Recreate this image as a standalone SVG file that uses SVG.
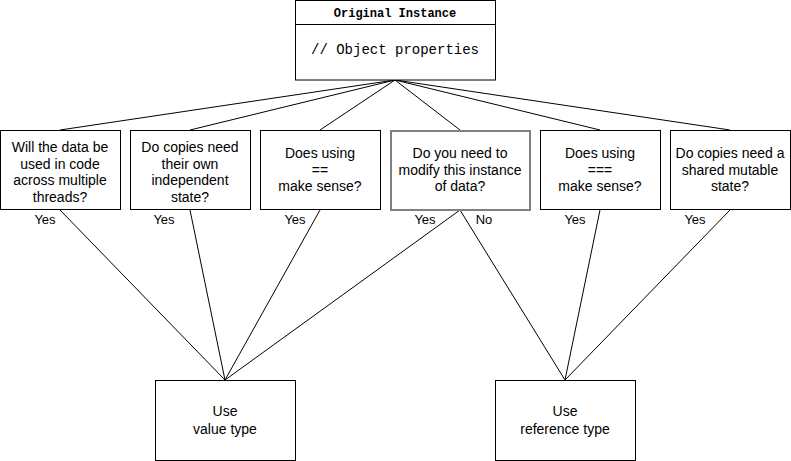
<svg xmlns="http://www.w3.org/2000/svg" width="791" height="461" viewBox="0 0 791 461">
<style>
.box{fill:#fff;stroke:#000;stroke-width:1}
.grey{fill:#fff;stroke:#808080;stroke-width:2}
.t{font-family:"Liberation Sans",Arial,sans-serif;font-size:14px;fill:#000;text-anchor:middle}
.lbl{font-family:"Liberation Sans",Arial,sans-serif;font-size:13px;fill:#000;text-anchor:middle}
.mono{font-family:"Liberation Mono","Courier New",monospace;fill:#000;text-anchor:middle}
.c{stroke:#000;stroke-width:1;fill:none}
</style>
<rect width="791" height="461" fill="#fff"/>
<g id="connectors">
<path class="c" d="M395 80L60 130M395 80L190 130M395 80L320 130M395 80L460 130M395 80L600 130M395 80L730 130"/>
<path class="c" d="M60 210L225 380M190 210L225 380M320 210L225 380M460 210L225 380M460 210L565 380M600 210L565 380M730 210L565 380"/>
<text class="lbl" x="45" y="224">Yes</text>
<text class="lbl" x="164" y="224">Yes</text>
<text class="lbl" x="295" y="224">Yes</text>
<text class="lbl" x="425" y="224">Yes</text>
<text class="lbl" x="484" y="224">No</text>
<text class="lbl" x="575" y="224">Yes</text>
<text class="lbl" x="695" y="224">Yes</text>
</g>
<g id="original">
<rect class="box" x="295.5" y="0.5" width="200" height="79.5"/>
<line class="c" x1="295.5" y1="24.5" x2="495.5" y2="24.5"/>
<text class="mono" x="395" y="17" font-size="12" font-weight="bold">Original Instance</text>
<text class="mono" x="395" y="54" font-size="14">// Object properties</text>
</g>
<g id="q1">
<rect class="box" x="0.5" y="130.5" width="120" height="79"/>
<text class="t" x="60" y="152">Will the data be<tspan x="60" dy="16.5">used in code</tspan><tspan x="60" dy="16.5">across multiple</tspan><tspan x="60" dy="16.5">threads?</tspan></text>
</g>
<g id="q2">
<rect class="box" x="130.5" y="130.5" width="120" height="79"/>
<text class="t" x="190" y="152">Do copies need<tspan x="190" dy="16.5">their own</tspan><tspan x="190" dy="16.5">independent</tspan><tspan x="190" dy="16.5">state?</tspan></text>
</g>
<g id="q3">
<rect class="box" x="260.5" y="130.5" width="120" height="79"/>
<text class="t" x="320" y="158">Does using<tspan x="320" dy="16.5">==</tspan><tspan x="320" dy="16.5">make sense?</tspan></text>
</g>
<g id="q4">
<rect class="grey" x="391" y="131" width="139" height="79"/>
<text class="t" x="460" y="158">Do you need to<tspan x="460" dy="16.5">modify this instance</tspan><tspan x="460" dy="16.5">of data?</tspan></text>
</g>
<g id="q5">
<rect class="box" x="540.5" y="130.5" width="120" height="79"/>
<text class="t" x="600" y="158">Does using<tspan x="600" dy="16.5">===</tspan><tspan x="600" dy="16.5">make sense?</tspan></text>
</g>
<g id="q6">
<rect class="box" x="670.5" y="130.5" width="120" height="79"/>
<text class="t" x="730" y="158">Do copies need a<tspan x="730" dy="16.5">shared mutable</tspan><tspan x="730" dy="16.5">state?</tspan></text>
</g>
<g id="value">
<rect class="box" x="155.5" y="380.5" width="140" height="80"/>
<text class="t" x="225" y="416">Use<tspan x="225" dy="18">value type</tspan></text>
</g>
<g id="reference">
<rect class="box" x="495.5" y="380.5" width="140" height="80"/>
<text class="t" x="565" y="416">Use<tspan x="565" dy="18">reference type</tspan></text>
</g>
</svg>
